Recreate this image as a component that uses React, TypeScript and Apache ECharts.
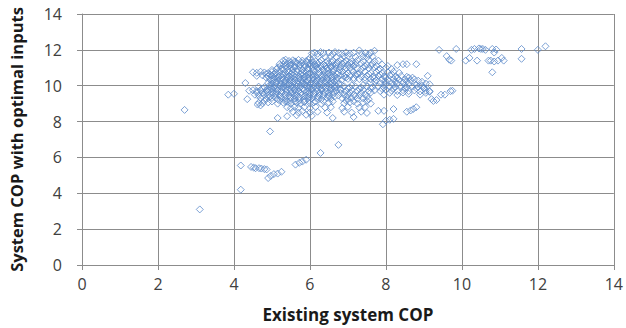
import React, { useEffect, useRef } from "react";
import * as echarts from "echarts";

type P = [number, number];

const xTicks = [0, 2, 4, 6, 8, 10, 12, 14];
const yTicks = [0, 2, 4, 6, 8, 10, 12, 14];
const xTitle = "Existing system COP";
const yTitle = "System COP with optimal inputs";

const lowOutliers: P[] = [
  [2.7, 8.65], [3.1, 3.1], [4.18, 4.2], [4.18, 5.55], [4.45, 5.47], [4.52, 5.43], [4.57, 5.4],
  [4.66, 5.4], [4.72, 5.38], [4.8, 5.35], [4.86, 5.33], [4.9, 4.85], [4.97, 4.97], [5.05, 5.07],
  [5.15, 5.1], [5.25, 5.2], [5.62, 5.6], [5.72, 5.7], [5.8, 5.77], [5.9, 5.87], [6.28, 6.25],
  [6.75, 6.7], [4.95, 7.45],
];

const leftStragglers: P[] = [
  [3.85, 9.5], [4.0, 9.55], [4.35, 9.25], [4.3, 10.15], [5.15, 8.2], [5.4, 8.3], [4.62, 8.95],
];

const rightTail: P[] = [
  [7.92, 7.85], [8.0, 8.05], [8.1, 8.1], [8.2, 8.15], [8.2, 8.7], [7.8, 8.6], [7.95, 8.6],
  [8.55, 8.55], [8.65, 8.62], [8.72, 8.7], [8.8, 8.8], [9.1, 10.55], [9.2, 9.25], [9.25, 9.15],
  [9.33, 9.2], [9.45, 9.5], [9.55, 9.5], [9.7, 9.7], [9.75, 9.72], [8.8, 11.2], [8.55, 11.2],
  [9.0, 9.85], [9.05, 9.6], [9.15, 9.7],
];

const topRight: P[] = [
  [9.4, 12.0], [9.6, 11.65], [9.67, 11.45], [9.72, 11.4], [9.85, 12.05], [10.1, 11.4],
  [10.2, 11.55], [10.25, 12.0], [10.33, 12.05], [10.4, 11.4], [10.45, 12.08], [10.5, 12.05],
  [10.55, 12.05], [10.62, 12.0], [10.7, 11.4], [10.76, 11.4], [10.8, 12.05], [10.85, 11.85],
  [10.9, 12.02], [10.85, 11.35], [10.95, 11.4], [10.8, 10.75], [11.05, 11.55], [11.1, 11.4],
  [11.57, 12.05], [11.57, 11.5], [12.0, 12.0], [12.2, 12.2],
];

const clusterTop: P[] = [
  [6.05, 11.8], [6.12, 11.85], [6.2, 11.78], [6.28, 11.88], [6.36, 11.82], [6.5, 11.85], [6.6, 11.78],
  [6.66, 11.88], [6.76, 11.83], [6.85, 11.8], [6.95, 11.86], [7.05, 11.8], [7.15, 11.84], [7.3, 11.97],
  [7.36, 11.8], [7.46, 11.82], [7.6, 11.85], [7.7, 11.95], [6.22, 11.62], [6.4, 11.6], [6.55, 11.65],
  [6.7, 11.58], [6.9, 11.62], [7.0, 11.66], [7.2, 11.6], [7.4, 11.63], [7.5, 11.58], [7.65, 11.62],
  [6.0, 11.55], [7.55, 11.72],
];

const clusterUpper: P[] = [
  [5.3, 11.4], [5.36, 11.45], [5.45, 11.38], [5.55, 11.42], [5.6, 11.36], [5.7, 11.44], [5.8, 11.4],
  [5.9, 11.37], [5.96, 11.45], [6.05, 11.4], [6.15, 11.36], [6.3, 11.43], [6.45, 11.38], [6.6, 11.42],
  [6.75, 11.36], [6.82, 11.45], [6.95, 11.4], [7.1, 11.35], [7.25, 11.42], [7.4, 11.38], [7.55, 11.44],
  [7.7, 11.36], [7.8, 11.4],
  [5.2, 11.2], [5.3, 11.16], [5.4, 11.22], [5.5, 11.18], [5.65, 11.24], [5.75, 11.16], [5.85, 11.2],
  [6.0, 11.24], [6.1, 11.17], [6.2, 11.22], [6.35, 11.18], [6.5, 11.25], [6.6, 11.15], [6.7, 11.2],
  [6.85, 11.24], [7.0, 11.16], [7.1, 11.22], [7.2, 11.18], [7.35, 11.24], [7.5, 11.16], [7.65, 11.2],
  [7.75, 11.1], [7.9, 11.18], [8.05, 11.1], [8.3, 11.15], [8.45, 11.2],
  [5.15, 11.0], [5.25, 10.96], [5.4, 11.03], [5.5, 10.98], [5.6, 11.04], [5.75, 10.97], [5.85, 11.02],
  [5.95, 10.96], [6.05, 11.03], [6.2, 10.98], [6.3, 11.04], [6.45, 10.96], [6.55, 11.02], [6.7, 10.97],
  [6.8, 11.04], [6.95, 10.98], [7.05, 11.02], [7.25, 10.96], [7.4, 11.03], [7.55, 10.97], [7.7, 11.02],
  [7.85, 10.95], [8.0, 11.0], [8.15, 10.93],
];

const clusterMiddle: P[] = [
  [4.5, 10.75], [4.6, 10.72], [4.7, 10.78], [4.8, 10.74], [4.9, 10.7], [5.0, 10.77], [5.1, 10.73],
  [5.2, 10.8], [5.35, 10.72], [5.45, 10.78], [5.55, 10.74], [5.65, 10.8], [5.8, 10.72], [5.9, 10.77],
  [6.0, 10.73], [6.15, 10.8], [6.25, 10.72], [6.4, 10.76], [6.5, 10.7], [6.6, 10.78], [6.75, 10.73],
  [6.85, 10.79], [7.0, 10.72], [7.15, 10.76], [7.3, 10.7], [7.45, 10.78], [7.6, 10.72], [7.75, 10.76],
  [7.9, 10.7], [8.05, 10.75], [8.2, 10.78], [8.35, 10.72],
  [4.6, 10.55], [4.75, 10.58], [4.9, 10.52], [5.0, 10.57], [5.1, 10.5], [5.2, 10.56], [5.3, 10.6],
  [5.45, 10.52], [5.55, 10.57], [5.7, 10.5], [5.8, 10.58], [5.9, 10.53], [6.05, 10.6], [6.15, 10.52],
  [6.3, 10.56], [6.4, 10.5], [6.55, 10.58], [6.65, 10.53], [6.8, 10.57], [6.9, 10.5], [7.05, 10.55],
  [7.2, 10.6], [7.35, 10.52], [7.5, 10.56], [7.65, 10.5], [7.8, 10.55], [7.95, 10.52], [8.1, 10.58],
  [8.25, 10.5], [8.4, 10.55], [8.55, 10.5], [8.7, 10.45],
  [4.95, 10.35], [5.05, 10.32], [5.15, 10.38], [5.3, 10.33], [5.4, 10.37], [5.5, 10.3], [5.6, 10.36],
  [5.75, 10.32], [5.85, 10.38], [5.95, 10.31], [6.1, 10.36], [6.2, 10.3], [6.35, 10.37], [6.45, 10.33],
  [6.6, 10.38], [6.7, 10.3], [6.85, 10.35], [7.6, 10.36], [7.75, 10.3], [7.9, 10.35], [8.05, 10.3],
  [8.2, 10.37], [8.35, 10.32], [8.5, 10.36], [8.65, 10.3], [8.75, 10.35], [8.85, 10.28],
  [7.0, 10.38], [7.15, 10.33], [7.3, 10.37], [7.45, 10.32],
  [4.9, 10.15], [5.0, 10.12], [5.1, 10.18], [5.25, 10.1], [5.35, 10.16], [5.45, 10.12], [5.55, 10.18],
  [5.7, 10.1], [5.8, 10.15], [5.9, 10.19], [6.0, 10.11], [6.15, 10.16], [6.25, 10.1], [6.4, 10.17],
  [6.5, 10.12], [6.6, 10.18], [6.75, 10.1], [7.85, 10.15], [8.0, 10.1], [8.15, 10.17], [8.3, 10.12],
  [8.45, 10.18], [8.6, 10.1], [9.05, 10.12], [9.15, 10.08], [7.6, 10.18], [7.1, 10.02], [7.4, 10.04],
];

const clusterLower: P[] = [
  [4.65, 9.95], [4.8, 9.92], [4.95, 9.97], [5.05, 9.9], [5.2, 9.96], [5.3, 9.92], [5.4, 9.98],
  [5.55, 9.9], [5.65, 9.95], [5.75, 9.92], [5.9, 9.98], [6.0, 9.9], [6.1, 9.95], [6.25, 9.92],
  [6.35, 9.97], [6.5, 9.9], [6.6, 9.96], [6.7, 9.92], [6.9, 9.97], [7.05, 9.9], [7.2, 9.95],
  [7.35, 9.9], [7.5, 9.96], [7.65, 9.92], [7.8, 9.97], [7.95, 9.9], [8.1, 9.95], [8.25, 9.92],
  [8.4, 9.97], [8.55, 9.9], [8.7, 9.95], [8.85, 9.92], [9.0, 9.88],
  [4.4, 9.72], [4.5, 9.75], [4.6, 9.7], [4.7, 9.76], [4.85, 9.72], [4.95, 9.77], [5.05, 9.7],
  [5.15, 9.75], [5.25, 9.7], [5.4, 9.77], [5.5, 9.72], [5.6, 9.76], [5.7, 9.7], [5.85, 9.75],
  [5.95, 9.7], [6.05, 9.77], [6.2, 9.72], [6.3, 9.76], [6.45, 9.7], [6.55, 9.75], [6.7, 9.72],
  [6.8, 9.77], [6.95, 9.7], [7.1, 9.75], [7.25, 9.72], [7.4, 9.76], [7.55, 9.7], [7.7, 9.74],
  [7.85, 9.7], [8.0, 9.76], [8.15, 9.72], [8.3, 9.7], [8.45, 9.75], [8.6, 9.7], [8.75, 9.74],
  [8.9, 9.68], [9.05, 9.72], [9.15, 9.66],
  [4.55, 9.5], [4.65, 9.46], [4.8, 9.52], [4.9, 9.45], [5.0, 9.5], [5.1, 9.55], [5.2, 9.47],
  [5.35, 9.52], [5.45, 9.46], [5.55, 9.53], [5.65, 9.48], [5.8, 9.52], [5.9, 9.45], [6.0, 9.5],
  [6.1, 9.55], [6.25, 9.47], [6.35, 9.52], [6.5, 9.46], [6.6, 9.5], [6.75, 9.45], [6.9, 9.52],
  [7.0, 9.47], [7.15, 9.5], [7.3, 9.45], [7.45, 9.52], [7.95, 9.5], [8.3, 9.48], [8.6, 9.55],
  [8.9, 9.5],
  [4.7, 9.3], [4.85, 9.27], [5.0, 9.32], [5.15, 9.25], [5.25, 9.3], [5.35, 9.26], [5.5, 9.32],
  [5.6, 9.27], [5.7, 9.3], [5.85, 9.25], [5.95, 9.32], [6.05, 9.27], [6.2, 9.3], [6.3, 9.25],
  [6.45, 9.32], [6.55, 9.27], [6.85, 9.3], [7.0, 9.25], [7.1, 9.32], [7.25, 9.27], [7.4, 9.3],
  [7.55, 9.25],
];

const clusterBottom: P[] = [
  [4.65, 9.05], [4.75, 9.02], [4.9, 9.07], [5.15, 9.0], [5.3, 9.05], [5.4, 9.1], [5.5, 9.02],
  [5.65, 9.06], [5.75, 9.0], [5.85, 9.08], [6.0, 9.02], [6.1, 9.06], [6.3, 9.0], [6.5, 9.05],
  [6.9, 9.02], [7.05, 9.07], [7.25, 9.0], [7.4, 9.05], [7.6, 9.0],
  [4.7, 8.9], [5.4, 8.8], [5.5, 8.75], [5.6, 8.82], [5.7, 8.77], [5.85, 8.8], [6.0, 8.75],
  [6.15, 8.82], [6.4, 8.78], [6.55, 8.8], [6.85, 8.75], [7.0, 8.82], [7.3, 8.78], [7.45, 8.8],
  [5.55, 8.55], [5.7, 8.5], [5.8, 8.58], [6.0, 8.5], [6.2, 8.55], [6.45, 8.5], [6.9, 8.55],
  [7.1, 8.5], [7.35, 8.55], [7.5, 8.48], [5.65, 8.35], [5.9, 8.38], [6.05, 8.32], [7.15, 8.25],
  [6.6, 8.2],
];

const clusterCore: P[] = [
  [5.35, 11.3], [5.5, 11.28], [5.63, 11.32], [5.78, 11.29], [5.92, 11.31], [6.08, 11.28], [6.25, 11.32],
  [6.42, 11.29], [6.58, 11.31], [6.72, 11.28], [6.9, 11.3], [7.05, 11.28], [7.2, 11.31],
  [5.22, 11.1], [5.35, 11.08], [5.48, 11.12], [5.6, 11.09], [5.72, 11.11], [5.88, 11.08], [6.02, 11.12],
  [6.15, 11.09], [6.28, 11.1], [6.4, 11.12], [6.55, 11.08], [6.68, 11.11], [6.9, 11.09], [7.15, 11.1],
  [7.45, 11.08], [7.6, 11.12],
  [5.0, 10.88], [5.12, 10.92], [5.3, 10.9], [5.42, 10.86], [5.55, 10.9], [5.68, 10.93], [5.8, 10.88],
  [5.95, 10.91], [6.1, 10.87], [6.22, 10.92], [6.35, 10.89], [6.48, 10.86], [6.62, 10.91], [6.78, 10.88],
  [6.92, 10.9], [7.1, 10.87], [7.35, 10.9], [7.8, 10.88],
  [4.85, 10.65], [4.95, 10.62], [5.05, 10.67], [5.15, 10.63], [5.27, 10.66], [5.4, 10.62], [5.5, 10.67],
  [5.62, 10.63], [5.75, 10.66], [5.85, 10.62], [5.97, 10.67], [6.1, 10.64], [6.22, 10.66], [6.35, 10.62],
  [6.47, 10.67], [6.6, 10.63], [6.72, 10.66], [6.95, 10.63], [7.25, 10.65], [7.55, 10.64], [7.85, 10.62],
  [8.15, 10.64],
  [4.85, 10.45], [5.05, 10.43], [5.17, 10.47], [5.27, 10.44], [5.38, 10.47], [5.5, 10.43], [5.62, 10.46],
  [5.72, 10.42], [5.85, 10.47], [5.97, 10.44], [6.08, 10.46], [6.2, 10.42], [6.32, 10.47], [6.45, 10.43],
  [6.57, 10.46], [6.72, 10.44], [6.95, 10.46], [7.15, 10.43], [7.45, 10.45], [7.7, 10.42], [8.0, 10.46],
  [8.3, 10.43], [8.6, 10.45],
  [5.0, 10.25], [5.12, 10.22], [5.22, 10.27], [5.35, 10.24], [5.47, 10.26], [5.58, 10.22], [5.68, 10.27],
  [5.8, 10.24], [5.92, 10.26], [6.05, 10.22], [6.17, 10.27], [6.28, 10.24], [6.42, 10.26], [6.55, 10.23],
  [6.65, 10.27], [7.7, 10.24], [7.98, 10.26], [8.25, 10.23], [8.55, 10.25], [8.95, 10.22],
  [4.95, 10.05], [5.08, 10.02], [5.2, 10.06], [5.32, 10.03], [5.42, 10.07], [5.52, 10.02], [5.62, 10.05],
  [5.75, 10.02], [5.87, 10.06], [5.97, 10.03], [6.08, 10.07], [6.2, 10.02], [6.32, 10.05], [6.45, 10.02],
  [6.55, 10.06], [6.68, 10.03], [6.82, 10.05], [7.95, 10.03], [8.2, 10.06], [8.5, 10.03], [8.8, 10.05],
  [8.95, 10.0],
  [4.75, 9.85], [4.88, 9.82], [5.0, 9.86], [5.12, 9.83], [5.25, 9.87], [5.35, 9.82], [5.47, 9.85],
  [5.6, 9.82], [5.72, 9.86], [5.82, 9.83], [5.95, 9.87], [6.05, 9.82], [6.18, 9.85], [6.3, 9.82],
  [6.42, 9.86], [6.55, 9.83], [6.65, 9.86], [6.8, 9.82], [7.0, 9.85], [7.3, 9.83], [7.6, 9.86],
  [7.9, 9.82], [8.2, 9.85], [8.5, 9.83], [8.8, 9.86],
  [4.6, 9.62], [4.75, 9.6], [4.88, 9.64], [5.0, 9.6], [5.12, 9.64], [5.25, 9.6], [5.38, 9.63],
  [5.5, 9.6], [5.62, 9.64], [5.75, 9.6], [5.88, 9.63], [6.0, 9.6], [6.12, 9.64], [6.25, 9.6],
  [6.38, 9.63], [6.5, 9.6], [6.62, 9.64], [6.8, 9.6], [7.05, 9.62], [7.35, 9.6], [7.6, 9.62],
  [8.1, 9.6], [8.45, 9.62],
  [4.75, 9.4], [4.95, 9.38], [5.08, 9.42], [5.22, 9.38], [5.35, 9.41], [5.48, 9.37], [5.6, 9.42],
  [5.72, 9.38], [5.85, 9.41], [5.98, 9.37], [6.1, 9.42], [6.22, 9.38], [6.35, 9.41], [6.5, 9.38],
  [6.65, 9.4], [6.95, 9.38], [7.2, 9.42], [7.5, 9.38],
  [4.8, 9.15], [5.0, 9.12], [5.2, 9.17], [5.35, 9.13], [5.48, 9.16], [5.6, 9.12], [5.72, 9.17],
  [5.85, 9.13], [5.98, 9.16], [6.15, 9.12], [6.35, 9.15], [6.6, 9.12], [6.95, 9.16], [7.15, 9.13],
  [7.5, 9.15],
];

const allPoints: P[] = [
  ...lowOutliers, ...leftStragglers, ...rightTail, ...topRight,
  ...clusterTop, ...clusterUpper, ...clusterMiddle, ...clusterLower, ...clusterBottom, ...clusterCore,
];

const gridColor = "#8c8c8c";
const font = "Open Sans";

export default function App() {
  const ref = useRef<HTMLDivElement>(null);
  useEffect(() => {
    if (!ref.current) return;
    const chart = echarts.init(ref.current, undefined, { renderer: "svg" });
    chart.setOption({
      animation: false,
      grid: { left: 76, right: 10, top: 14, bottom: 57, containLabel: false },
      xAxis: {
        type: "value",
        min: xTicks[0],
        max: xTicks[xTicks.length - 1],
        interval: 2,
        name: xTitle,
        nameLocation: "middle",
        nameGap: 41,
        nameTextStyle: { fontFamily: font, fontWeight: "bold", fontSize: 17, color: "#1a1a1a" },
        axisLine: { show: true, lineStyle: { color: gridColor, width: 1 } },
        axisTick: { show: true, length: 5, lineStyle: { color: gridColor } },
        axisLabel: { fontFamily: font, fontSize: 16, color: "#404040", margin: 11 },
        splitLine: { show: true, lineStyle: { color: gridColor, width: 1 } },
      },
      yAxis: {
        type: "value",
        min: yTicks[0],
        max: yTicks[yTicks.length - 1],
        interval: 2,
        name: yTitle,
        nameLocation: "middle",
        nameGap: 57,
        nameTextStyle: { fontFamily: font, fontWeight: "bold", fontSize: 16.5, color: "#1a1a1a" },
        axisLine: { show: true, lineStyle: { color: gridColor, width: 1 } },
        axisTick: { show: true, length: 5, lineStyle: { color: gridColor } },
        axisLabel: { fontFamily: font, fontSize: 16, color: "#404040", margin: 20 },
        splitLine: { show: true, lineStyle: { color: gridColor, width: 1 } },
      },
      series: [
        {
          type: "scatter",
          data: allPoints,
          symbol: "diamond",
          symbolSize: 7,
          itemStyle: { color: "rgba(255,255,255,0)", borderColor: "#5b8ac9", borderWidth: 1 },
        },
      ],
    });
    return () => chart.dispose();
  }, []);
  return (
    <div
      ref={ref}
      style={{ position: "absolute", left: 0, top: 0, width: 626, height: 328 }}
    />
  );
}
